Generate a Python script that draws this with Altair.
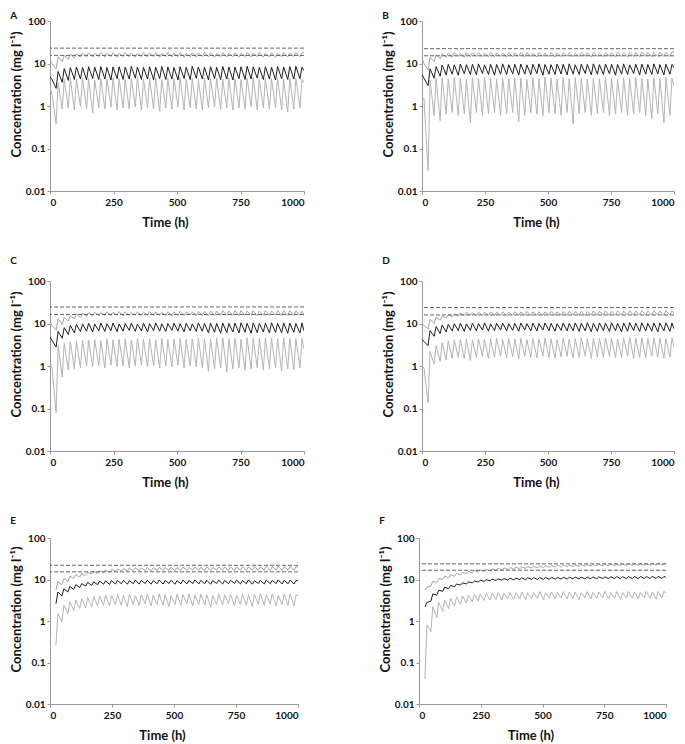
import altair as alt
import pandas as pd

# ---- sampling times (h): trough at each dose, peak shortly after ----
DOSE_TIMES = [0, 24, 48, 72, 96, 120, 144, 168, 192, 216, 240, 264, 288, 312, 336, 360, 384, 408, 432, 456, 480,
              504, 528, 552, 576, 600, 624, 648, 672, 696, 720, 744, 768, 792, 816, 840, 864, 888, 912, 936, 960, 984]
PEAK_TIMES = [8, 32, 56, 80, 104, 128, 152, 176, 200, 224, 248, 272, 296, 320, 344, 368, 392, 416, 440, 464, 488,
              512, 536, 560, 584, 608, 632, 656, 680, 704, 728, 752, 776, 800, 824, 848, 872, 896, 920, 944, 968, 992]
END_TIME = 1000

X_TICKS = [0, 250, 500, 750, 1000]
Y_TICKS = [0.01, 0.1, 1, 10, 100]

# ---- Panel A ----
A_LO_TR = [2.8, 0.38, 0.85, 0.9, 0.8, 0.95, 0.85, 0.68, 0.9, 0.85, 0.95, 0.8, 0.9, 0.85, 0.95, 0.8, 0.9, 0.85, 0.75, 0.9, 0.85,
           0.95, 0.8, 0.9, 0.85, 0.8, 0.9, 0.95, 0.85, 0.9, 0.8, 0.9, 0.85, 0.95, 0.8, 0.9, 0.85, 0.9, 0.8, 0.72, 0.85, 0.9]
A_LO_PK = [1.8, 3.5, 4.2, 4.5, 4.3, 4.6, 4.4, 4.1, 4.5, 4.3, 4.6, 4.4, 4.2, 4.5, 4.7, 4.3, 4.4, 4.6, 4.2, 4.5, 4.4,
           4.7, 4.3, 4.5, 4.2, 4.6, 4.4, 4.5, 4.3, 4.6, 4.4, 4.2, 4.5, 4.7, 4.3, 4.5, 4.4, 4.6, 4.2, 4.4, 4.5, 4.3]
A_LO_END = 3.5
A_MID_TR = [4.9, 2.6, 3.6, 4.0, 4.2, 4.3, 4.1, 4.4, 4.2, 4.3, 4.1, 4.4, 4.2, 4.3, 4.5, 4.2, 4.3, 4.1, 4.4, 4.2, 4.3,
            4.1, 4.4, 4.2, 4.5, 4.3, 4.1, 4.4, 4.2, 4.3, 4.1, 4.4, 4.2, 4.3, 4.5, 4.2, 4.3, 4.1, 4.4, 4.2, 4.3, 4.4]
A_MID_PK = [4.2, 6.5, 7.6, 8.0, 8.3, 8.1, 8.4, 8.2, 8.5, 8.1, 8.3, 8.4, 8.2, 8.6, 8.3, 8.1, 8.4, 8.2, 8.5, 8.3, 8.1,
            8.4, 8.2, 8.6, 8.3, 8.2, 8.4, 8.1, 8.5, 8.3, 8.2, 8.4, 8.6, 8.3, 8.1, 8.4, 8.2, 8.5, 8.3, 8.4, 8.6, 8.2]
A_MID_END = 6.8
A_HI_TR = [12, 7.5, 11, 12.5, 13.5, 14, 14.3, 14.1, 14.5, 14.2, 14.4, 14.0, 14.6, 14.3, 14.1, 14.5, 14.2, 14.4, 14.0, 14.6, 14.3,
           14.5, 14.1, 14.4, 14.2, 14.6, 14.3, 14.0, 14.5, 14.2, 14.4, 14.1, 14.6, 14.3, 14.5, 14.2, 14.4, 14.0, 14.5, 14.3, 14.6, 14.4]
A_HI_PK = [10, 14.5, 15.5, 16.5, 17.0, 17.5, 17.8, 17.3, 18.0, 17.5, 17.8, 17.2, 18.1, 17.6, 17.4, 18.0, 17.5, 17.8, 17.2, 18.2, 17.6,
           17.9, 17.4, 18.0, 17.5, 18.2, 17.7, 17.3, 18.0, 17.6, 17.9, 17.4, 18.2, 17.7, 18.0, 17.5, 17.8, 17.3, 18.1, 17.7, 18.3, 17.9]
A_HI_END = 18
A_THR = [23, 15.5]

# ---- Panel B ----
B_LO_TR = [1.55, 0.03, 0.6, 0.45, 0.65, 0.7, 0.6, 0.65, 0.4, 0.7, 0.6, 0.65, 0.7, 0.6, 0.65, 0.7, 0.42, 0.6, 0.7, 0.65, 0.6,
           0.7, 0.65, 0.6, 0.7, 0.38, 0.65, 0.7, 0.6, 0.65, 0.7, 0.6, 0.65, 0.7, 0.6, 0.65, 0.7, 0.6, 0.5, 0.65, 0.4, 0.6]
B_LO_PK = [1.5, 4.0, 4.4, 4.6, 4.3, 4.7, 4.5, 4.2, 4.6, 4.4, 4.8, 4.5, 4.3, 4.6, 4.4, 4.7, 4.5, 4.2, 4.6, 4.4, 4.8,
           4.5, 4.3, 4.6, 4.4, 4.7, 4.5, 4.3, 4.6, 4.4, 4.8, 4.5, 4.2, 4.6, 4.4, 4.7, 4.5, 4.3, 4.6, 4.4, 4.7, 4.5]
B_LO_END = 2.9
B_MID_TR = [5.5, 3.0, 4.5, 5.0, 5.4, 5.6, 5.3, 5.7, 5.5, 5.4, 5.8, 5.5, 5.3, 5.6, 5.5, 5.7, 5.4, 5.6, 5.5, 5.8, 5.3,
            5.6, 5.5, 5.7, 5.4, 5.6, 5.5, 5.8, 5.4, 5.6, 5.5, 5.7, 5.3, 5.6, 5.5, 5.8, 5.4, 5.6, 5.5, 5.7, 5.4, 5.6]
B_MID_PK = [4.5, 7.5, 8.5, 9.2, 9.5, 9.3, 9.7, 9.4, 9.6, 9.8, 9.3, 9.6, 9.5, 9.8, 9.4, 9.6, 9.7, 9.3, 9.6, 9.8, 9.5,
            9.4, 9.7, 9.6, 9.8, 9.3, 9.6, 9.5, 9.8, 9.4, 9.7, 9.6, 9.5, 9.8, 9.3, 9.6, 9.7, 9.5, 9.8, 9.4, 9.6, 9.5]
B_MID_END = 8.0
B_HI_TR = [13, 7.0, 11, 13, 14, 14.3, 14.6, 14.2, 14.5, 14.8, 14.3, 14.6, 14.4, 14.7, 14.2, 14.5, 14.8, 14.4, 14.6, 14.3, 14.7,
           14.5, 14.2, 14.6, 14.8, 14.4, 14.5, 14.7, 14.3, 14.6, 14.5, 14.8, 14.4, 14.6, 14.3, 14.7, 14.5, 14.8, 14.4, 14.6, 14.7, 14.5]
B_HI_PK = [10, 14, 16, 17, 17.5, 17.8, 17.4, 18.0, 17.6, 17.9, 17.3, 18.1, 17.7, 17.5, 18.0, 17.6, 18.2, 17.8, 17.4, 18.0, 17.7,
           18.3, 17.6, 17.9, 18.1, 17.5, 18.0, 17.8, 18.3, 17.6, 18.0, 17.9, 18.4, 17.7, 18.1, 17.8, 18.5, 17.9, 18.2, 18.6, 18.3, 18.8]
B_HI_END = 18.5
B_THR = [22.3, 15.2]

# ---- Panel C ----
C_LO_TR = [1.2, 0.08, 0.55, 0.8, 0.85, 0.9, 1.0, 0.95, 1.0, 0.9, 1.05, 0.95, 1.0, 0.9, 1.0, 1.05, 0.95, 1.0, 0.9, 1.0, 0.95,
           1.05, 0.9, 1.0, 0.95, 0.9, 0.75, 0.85, 0.9, 0.72, 0.85, 0.9, 0.8, 0.85, 0.9, 0.8, 0.85, 0.9, 0.75, 0.85, 0.8, 0.9]
C_LO_PK = [0.9, 3.0, 3.4, 3.7, 3.9, 4.0, 4.1, 4.2, 4.0, 4.3, 4.1, 4.2, 4.3, 4.1, 4.4, 4.2, 4.3, 4.1, 4.4, 4.2, 4.3,
           4.4, 4.2, 4.3, 4.5, 4.4, 4.3, 4.5, 4.6, 4.4, 4.5, 4.3, 4.6, 4.5, 4.4, 4.6, 4.5, 4.3, 4.6, 4.5, 4.4, 4.5]
C_LO_END = 2.5
C_MID_TR = [4.9, 2.8, 4.5, 5.5, 6.0, 6.4, 6.6, 6.3, 6.7, 6.5, 6.8, 6.4, 6.6, 6.9, 6.5, 6.7, 6.4, 6.8, 6.6, 6.5, 6.9,
            6.6, 6.4, 6.7, 6.5, 6.6, 6.0, 6.2, 5.9, 6.1, 6.3, 6.0, 6.2, 5.9, 6.1, 6.3, 6.0, 6.2, 6.1, 5.9, 6.2, 6.0]
C_MID_PK = [4.0, 6.5, 8.0, 9.0, 9.5, 9.8, 10.1, 9.7, 10.2, 9.9, 10.3, 9.8, 10.0, 10.2, 9.7, 10.1, 9.9, 10.3, 9.8, 10.0, 10.2,
            9.9, 10.1, 9.8, 10.3, 10.0, 10.2, 10.1, 10.3, 10.0, 10.2, 10.4, 10.1, 10.3, 10.0, 10.2, 10.4, 10.1, 10.3, 10.2, 10.0, 10.3]
C_MID_END = 6.7
C_HI_TR = [11, 7.0, 9.5, 11.5, 13, 14, 14.8, 15.2, 15.0, 15.5, 15.3, 15.6, 15.2, 15.5, 15.8, 15.4, 15.6, 15.3, 15.7, 15.5, 15.2,
           15.6, 15.4, 15.8, 15.5, 15.3, 15.6, 15.4, 15.7, 15.5, 15.8, 15.4, 15.6, 15.5, 15.3, 15.7, 15.5, 15.8, 15.4, 15.6, 15.5, 15.7]
C_HI_PK = [9, 13, 14, 15, 16.5, 17.5, 18.0, 18.5, 18.2, 18.8, 18.4, 19.0, 18.6, 18.3, 18.9, 18.5, 19.1, 18.7, 18.4, 19.0, 18.6,
           19.2, 18.8, 18.5, 19.1, 19.3, 19.8, 19.5, 20.0, 19.6, 19.9, 20.2, 19.7, 20.0, 19.6, 20.1, 19.8, 20.2, 19.7, 20.0, 19.8, 19.5]
C_HI_END = 17
C_THR = [24.5, 16.3]

# ---- Panel D ----
D_LO_TR = [1.0, 0.135, 1.1, 1.3, 1.4, 1.5, 1.6, 1.5, 1.35, 1.6, 1.7, 1.5, 1.6, 1.7, 1.55, 1.65, 1.5, 1.7, 1.6, 1.55, 1.7,
           1.6, 1.5, 1.65, 1.7, 1.55, 1.6, 1.7, 1.5, 1.65, 1.6, 1.7, 1.55, 1.6, 1.7, 1.5, 1.6, 1.55, 1.7, 1.6, 1.5, 1.6]
D_LO_PK = [0.9, 2.2, 3.0, 3.5, 3.9, 4.1, 4.2, 4.3, 4.1, 4.4, 4.2, 4.3, 4.5, 4.2, 4.4, 4.3, 4.5, 4.2, 4.4, 4.3, 4.5,
           4.4, 4.2, 4.5, 4.3, 4.4, 4.6, 4.3, 4.5, 4.4, 4.6, 4.5, 4.3, 4.6, 4.7, 4.5, 4.6, 4.4, 4.6, 4.5, 4.4, 4.6]
D_LO_END = 2.7
D_MID_TR = [4.2, 3.0, 5.0, 5.8, 6.3, 6.6, 6.8, 6.5, 6.9, 6.7, 7.0, 6.6, 6.8, 7.0, 6.7, 6.9, 6.6, 7.0, 6.8, 6.7, 7.0,
            6.8, 6.6, 6.9, 6.7, 6.8, 6.5, 6.7, 6.4, 6.6, 6.8, 6.5, 6.7, 6.4, 6.6, 6.8, 6.5, 6.7, 6.6, 6.4, 6.7, 6.5]
D_MID_PK = [3.8, 6.8, 8.5, 9.2, 9.6, 9.9, 10.1, 9.8, 10.2, 9.9, 10.3, 9.8, 10.1, 10.2, 9.9, 10.1, 10.3, 9.9, 10.2, 10.0, 10.3,
            10.1, 9.9, 10.2, 10.0, 10.3, 10.2, 10.4, 10.1, 10.3, 10.2, 10.4, 10.1, 10.3, 10.5, 10.2, 10.4, 10.1, 10.3, 10.2, 10.4, 10.3]
D_MID_END = 7.5
D_HI_TR = [10, 7.5, 10, 12, 13.5, 14.5, 15.0, 15.3, 15.6, 15.2, 15.5, 15.8, 15.4, 15.6, 15.3, 15.7, 15.5, 15.8, 15.4, 15.6, 15.5,
           15.9, 15.4, 15.7, 15.5, 15.8, 15.6, 15.4, 15.8, 15.6, 15.9, 15.5, 15.7, 15.6, 15.9, 15.5, 15.8, 15.6, 15.7, 15.9, 15.6, 15.8]
D_HI_PK = [9, 12.5, 14, 15, 16, 17, 17.8, 18.3, 18.0, 18.6, 18.2, 18.8, 18.4, 18.9, 18.5, 19.0, 18.6, 19.2, 18.7, 19.0, 18.8,
           19.3, 18.9, 19.1, 19.4, 19.0, 19.5, 19.2, 19.7, 19.4, 19.8, 19.5, 19.9, 19.6, 20.0, 19.7, 20.1, 19.8, 20.0, 19.7, 20.1, 19.9]
D_HI_END = 17
D_THR = [23.7, 15.9]

# ---- Panel E (first dose at 24 h) ----
E_LO_TR = [0.26, 0.96, 1.5, 1.8, 2.0, 2.1, 2.2, 2.3, 2.4, 2.3, 2.5, 2.4, 2.2, 2.5, 2.4, 2.6, 2.3, 2.5, 2.4, 2.2, 2.5,
           2.4, 2.6, 2.3, 2.5, 2.4, 2.2, 2.5, 2.4, 2.6, 2.3, 2.5, 2.4, 2.2, 2.5, 2.4, 2.6, 2.3, 2.5, 2.4, 2.3]
E_LO_PK = [1.5, 2.4, 2.9, 3.2, 3.5, 3.7, 3.9, 4.0, 4.2, 4.1, 4.3, 4.2, 4.4, 4.1, 4.3, 4.4, 4.2, 4.5, 4.3, 4.1, 4.4,
           4.3, 4.5, 4.2, 4.4, 4.3, 4.1, 4.5, 4.3, 4.4, 4.2, 4.5, 4.3, 4.4, 4.6, 4.3, 4.5, 4.2, 4.4, 4.5, 4.3]
E_LO_END = 4.0
E_MID_TR = [2.6, 4.0, 5.0, 5.8, 6.4, 6.9, 7.2, 7.5, 7.7, 7.6, 7.8, 7.9, 7.7, 7.9, 7.8, 8.0, 7.7, 7.9, 7.8, 8.0, 7.7,
            7.9, 7.8, 8.0, 7.8, 7.9, 7.7, 8.0, 7.8, 7.9, 8.0, 7.8, 7.9, 7.7, 8.0, 7.8, 7.9, 8.0, 7.8, 7.9, 7.8]
E_MID_PK = [5.0, 6.0, 6.8, 7.5, 8.0, 8.5, 8.8, 9.1, 9.3, 9.4, 9.5, 9.6, 9.4, 9.7, 9.5, 9.6, 9.4, 9.7, 9.5, 9.6, 9.4,
            9.7, 9.5, 9.8, 9.5, 9.6, 9.4, 9.7, 9.5, 9.6, 9.7, 9.5, 9.8, 9.4, 9.6, 9.7, 9.5, 9.8, 9.6, 9.7, 9.5]
E_MID_END = 9.3
E_HI_TR = [5.5, 7.5, 9.0, 10.5, 11.5, 12.5, 13.5, 14.0, 14.5, 15.0, 15.5, 15.8, 16.0, 16.3, 16.1, 16.5, 16.3, 16.6, 16.4, 16.7, 16.3,
           16.6, 16.5, 16.8, 16.4, 16.7, 16.5, 16.8, 16.6, 16.9, 16.5, 16.8, 16.6, 16.9, 16.7, 17.0, 16.6, 16.9, 16.7, 17.0, 16.8]
E_HI_PK = [9.0, 10.5, 12.0, 13.0, 14.0, 15.0, 15.8, 16.5, 17.0, 17.6, 18.0, 18.5, 18.8, 19.2, 19.0, 19.5, 19.2, 19.7, 19.4, 19.8, 19.5,
           19.9, 19.6, 20.0, 19.7, 20.1, 19.8, 20.2, 19.9, 20.3, 20.0, 20.4, 20.1, 20.5, 20.2, 20.6, 20.3, 20.7, 20.4, 20.8, 20.5]
E_HI_END = 19.5
E_THR = [22, 15.3]

# ---- Panel F (first dose at 24 h) ----
F_LO_TR = [0.04, 0.55, 1.2, 1.7, 2.0, 2.3, 2.5, 2.7, 2.9, 3.0, 3.1, 3.2, 3.3, 3.2, 3.4, 3.3, 3.5, 3.3, 3.4, 3.5, 3.3,
           3.5, 3.4, 3.6, 3.4, 3.5, 3.3, 3.6, 3.4, 3.5, 3.6, 3.4, 3.5, 3.3, 3.6, 3.5, 3.4, 3.6, 3.5, 3.4, 3.6]
F_LO_PK = [0.8, 2.2, 2.8, 3.2, 3.5, 3.8, 4.0, 4.2, 4.4, 4.5, 4.6, 4.7, 4.8, 4.7, 4.9, 4.8, 5.0, 4.8, 4.9, 5.1, 4.8,
           5.0, 4.9, 5.1, 4.9, 5.0, 4.8, 5.1, 4.9, 5.0, 5.2, 4.9, 5.1, 4.9, 5.2, 5.0, 4.9, 5.2, 5.0, 5.1, 5.2]
F_LO_END = 4.6
F_MID_TR = [2.2, 3.0, 4.2, 5.2, 6.0, 6.7, 7.3, 7.8, 8.3, 8.7, 9.0, 9.3, 9.5, 9.6, 9.7, 9.8, 9.9, 9.9, 10.0, 10.0, 10.1,
            10.1, 10.2, 10.2, 10.2, 10.3, 10.3, 10.3, 10.4, 10.4, 10.4, 10.4, 10.5, 10.5, 10.5, 10.5, 10.5, 10.6, 10.6, 10.6, 10.6]
F_MID_PK = [2.8, 4.5, 5.5, 6.5, 7.2, 7.8, 8.3, 8.8, 9.2, 9.6, 9.9, 10.2, 10.4, 10.6, 10.7, 10.8, 11.0, 11.0, 11.1, 11.2, 11.2,
            11.3, 11.3, 11.4, 11.4, 11.5, 11.5, 11.5, 11.6, 11.6, 11.6, 11.7, 11.7, 11.7, 11.8, 11.8, 11.8, 11.8, 11.9, 11.9, 11.9]
F_MID_END = 11.2
F_HI_TR = [5.5, 7.0, 8.5, 10.0, 11.0, 12.0, 13.0, 13.8, 14.5, 15.0, 15.5, 16.0, 16.5, 17.0, 17.4, 17.8, 18.2, 18.5, 18.8, 19.1, 19.4,
           19.7, 19.9, 20.1, 20.3, 20.5, 20.7, 20.9, 21.0, 21.2, 21.3, 21.4, 21.5, 21.6, 21.7, 21.8, 21.9, 22.0, 22.0, 22.1, 22.2]
F_HI_PK = [6.5, 9.0, 10.5, 12.0, 13.0, 14.0, 15.0, 15.8, 16.5, 17.0, 17.6, 18.1, 18.6, 19.0, 19.4, 19.8, 20.2, 20.5, 20.8, 21.1, 21.4,
           21.7, 22.0, 22.2, 22.4, 22.6, 22.8, 23.0, 23.2, 23.3, 23.5, 23.6, 23.7, 23.8, 23.9, 24.0, 24.1, 24.2, 24.2, 24.3, 24.4]
F_HI_END = 23.5
F_THR = [23.8, 16.7]

FONT = "Lato"
SERIES_DOMAIN = ["lo", "hi", "mid"]
SERIES_COLORS = ["#b4b4b4", "#a2a2a2", "#1e1e1e"]


def series_frame(name, troughs, peaks, end):
    start = len(DOSE_TIMES) - len(troughs)
    rows = []
    for t, v, tp, vp in zip(DOSE_TIMES[start:], troughs, PEAK_TIMES[start:], peaks):
        rows.append({"t": t, "c": v, "s": name})
        rows.append({"t": tp, "c": vp, "s": name})
    rows.append({"t": END_TIME, "c": end, "s": name})
    return rows


def panel(letter, lo, mid, hi, thr, width, height, title_offset):
    rows = series_frame("lo", *lo) + series_frame("hi", *hi) + series_frame("mid", *mid)
    df = pd.DataFrame(rows)
    thr_df = pd.DataFrame({"c": thr})
    x_enc = alt.X("t:Q", scale=alt.Scale(domain=[0, 1000], nice=False),
                  axis=alt.Axis(values=X_TICKS, format="d", title="Time (h)", titleX=width / 2 - 12,
                                titlePadding=9, labelPadding=3))
    y_enc = alt.Y("c:Q", scale=alt.Scale(type="log", domain=[0.01, 100], nice=False),
                  axis=alt.Axis(values=Y_TICKS, format="~g", title="Concentration (mg l⁻¹)",
                                titleY=height / 2 - 12, titlePadding=2, labelPadding=2))
    lines = alt.Chart(df).mark_line(strokeWidth=1, clip=True).encode(
        x=x_enc, y=y_enc,
        color=alt.Color("s:N", scale=alt.Scale(domain=SERIES_DOMAIN, range=SERIES_COLORS), legend=None),
        order=alt.Order("t:Q"),
    )
    rules = alt.Chart(thr_df).mark_rule(strokeDash=[4, 2], color="#555555", strokeWidth=0.9).encode(
        y=alt.Y("c:Q")
    )
    return alt.layer(lines, rules).properties(
        width=width, height=height,
        title=alt.TitleParams(letter, anchor="start", frame="bounds", fontSize=10, fontWeight="bold",
                              font=FONT, offset=title_offset),
    )


pA = panel("A", (A_LO_TR, A_LO_PK, A_LO_END), (A_MID_TR, A_MID_PK, A_MID_END), (A_HI_TR, A_HI_PK, A_HI_END), A_THR, 254, 170, -5)
pB = panel("B", (B_LO_TR, B_LO_PK, B_LO_END), (B_MID_TR, B_MID_PK, B_MID_END), (B_HI_TR, B_HI_PK, B_HI_END), B_THR, 252, 170, -5)
pC = panel("C", (C_LO_TR, C_LO_PK, C_LO_END), (C_MID_TR, C_MID_PK, C_MID_END), (C_HI_TR, C_HI_PK, C_HI_END), C_THR, 254, 170, 10)
pD = panel("D", (D_LO_TR, D_LO_PK, D_LO_END), (D_MID_TR, D_MID_PK, D_MID_END), (D_HI_TR, D_HI_PK, D_HI_END), D_THR, 252, 170, 10)
pE = panel("E", (E_LO_TR, E_LO_PK, E_LO_END), (E_MID_TR, E_MID_PK, E_MID_END), (E_HI_TR, E_HI_PK, E_HI_END), E_THR, 248, 166, 7)
pF = panel("F", (F_LO_TR, F_LO_PK, F_LO_END), (F_MID_TR, F_MID_PK, F_MID_END), (F_HI_TR, F_HI_PK, F_HI_END), F_THR, 247, 166, 7)

row1 = alt.hconcat(pA, pB, spacing=77)
row2 = alt.hconcat(pC, pD, spacing=77)
row3 = alt.hconcat(pE, pF, spacing=80)

chart = alt.vconcat(row1, row2, row3, spacing=27).properties(
    padding={"left": 2, "top": 3, "right": 0, "bottom": 0}
).configure_axis(
    labelFont=FONT, labelFontWeight="bold", labelFontSize=10, labelColor="#111111",
    titleFont=FONT, titleFontWeight="bold", titleFontSize=13, titleColor="#111111",
    domainColor="#999999", tickColor="#999999", tickSize=3, grid=False,
).configure_view(stroke=None).configure_title(color="#111111")

chart.save("out.html", embed_options={"renderer": "svg", "actions": False})
